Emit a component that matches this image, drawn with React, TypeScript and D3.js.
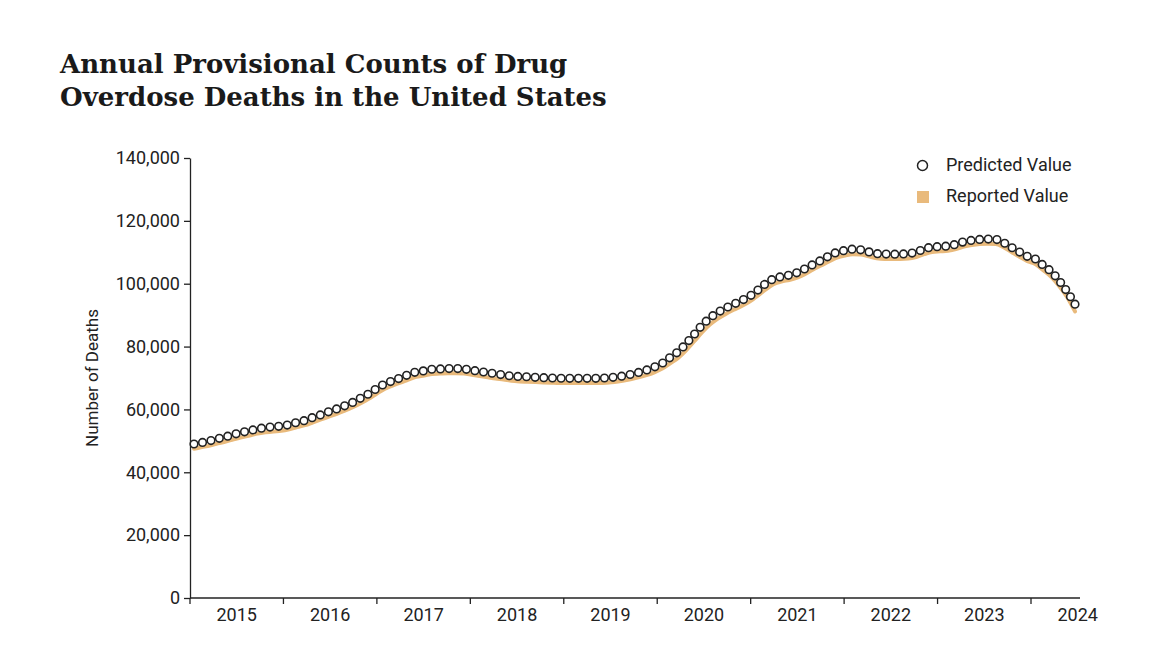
import React, { useEffect, useRef } from 'react';
import * as d3 from 'd3';

// Monthly predicted provisional counts (12-month ending), Jan 2015 – Apr 2024
const predicted2015 = [49000, 49480, 50000, 50680, 51330, 52030, 52650, 53230, 53800, 54230, 54470, 54710];
const predicted2016 = [55180, 55910, 56530, 57490, 58340, 59290, 60190, 61180, 62260, 63600, 64960, 66620];
const predicted2017 = [68100, 69080, 70040, 71070, 71940, 72310, 72790, 72890, 72980, 73000, 72860, 72480];
const predicted2018 = [72080, 71710, 71340, 70960, 70640, 70480, 70380, 70200, 70110, 70020, 69930, 69900];
const predicted2019 = [69900, 69900, 69900, 69930, 70050, 70260, 70640, 71150, 71780, 72510, 73490, 74690];
const predicted2020 = [76580, 78380, 80950, 83790, 86760, 89130, 90870, 92260, 93460, 94670, 96010, 97870];
const predicted2021 = [99990, 101550, 102280, 102740, 103530, 104790, 106160, 107440, 108810, 110020, 110590, 111000];
const predicted2022 = [110790, 110160, 109600, 109430, 109400, 109460, 109560, 110090, 111050, 111680, 111830, 112010];
const predicted2023 = [112570, 113350, 113820, 114100, 114200, 114110, 113080, 111560, 110110, 108700, 107870, 105860];
const predicted2024 = [103860, 100990, 97500, 93500];

// Monthly reported provisional counts
const reported2015 = [47500, 48000, 48500, 49200, 49800, 50500, 51100, 51700, 52300, 52700, 53000, 53200];
const reported2016 = [53700, 54400, 55000, 55900, 56800, 57700, 58600, 59600, 60700, 62000, 63400, 65000];
const reported2017 = [66500, 67600, 68500, 69500, 70400, 70800, 71300, 71400, 71500, 71500, 71400, 71000];
const reported2018 = [70600, 70200, 69800, 69500, 69100, 68900, 68800, 68700, 68600, 68500, 68400, 68400];
const reported2019 = [68400, 68400, 68400, 68400, 68500, 68700, 69100, 69600, 70200, 70900, 71800, 73000];
const reported2020 = [74700, 76400, 78800, 81600, 84500, 87000, 88900, 90400, 91700, 92900, 94300, 96100];
const reported2021 = [98100, 99800, 100700, 101200, 101900, 103100, 104500, 105800, 107100, 108300, 109000, 109400];
const reported2022 = [109300, 108700, 108100, 107900, 107900, 107900, 108000, 108500, 109400, 110100, 110300, 110500];
const reported2023 = [111000, 111800, 112300, 112600, 112700, 112600, 111600, 110100, 108600, 107200, 106300, 104300];
const reported2024 = [102200, 99300, 95800, 91200];

const predictedValues = [
  ...predicted2015, ...predicted2016, ...predicted2017, ...predicted2018, ...predicted2019,
  ...predicted2020, ...predicted2021, ...predicted2022, ...predicted2023, ...predicted2024,
];
const reportedValues = [
  ...reported2015, ...reported2016, ...reported2017, ...reported2018, ...reported2019,
  ...reported2020, ...reported2021, ...reported2022, ...reported2023, ...reported2024,
];

const yTicks = [0, 20000, 40000, 60000, 80000, 100000, 120000, 140000];
const yearTicks = [2015, 2016, 2017, 2018, 2019, 2020, 2021, 2022, 2023, 2024];
const titleLines = ['Annual Provisional Counts of Drug', 'Overdose Deaths in the United States'];
const yAxisTitle = 'Number of Deaths';
const legendLabels = ['Predicted Value', 'Reported Value'];

const W = 1161;
const H = 653;
const TAN = '#E9BA7C';
const INK = '#222222';
const SANS = 'Roboto, "Open Sans", sans-serif';

export default function App() {
  const ref = useRef<SVGSVGElement>(null);

  useEffect(() => {
    const svg = d3.select(ref.current);
    svg.selectAll('*').remove();

    const y = d3.scaleLinear().domain([0, 140000]).range([598, 158]);
    const n = predictedValues.length;
    const x = d3.scaleLinear().domain([0, n - 1]).range([194, 1075]);
    const yearX = d3.scaleLinear().domain([2015, 2024]).range([190, 1031]);

    svg.append('rect').attr('width', W).attr('height', H).attr('fill', '#fff');

    // Title
    const title = svg.append('text')
      .attr('x', 60)
      .attr('font-family', '"DejaVu Serif", serif')
      .attr('font-weight', 700)
      .attr('font-size', 26)
      .attr('fill', '#1a1a1a');
    titleLines.forEach((t, i) => {
      title.append('tspan').attr('x', 60).attr('y', 73 + i * 33).text(t);
    });

    // Y axis
    const yAxis = d3.axisLeft(y)
      .tickValues(yTicks)
      .tickSize(6)
      .tickSizeOuter(0)
      .tickPadding(4)
      .tickFormat((d) => d3.format(',')(d as number));
    const gy = svg.append('g').attr('transform', 'translate(190,0)').call(yAxis);
    gy.select('.domain').attr('stroke', INK).attr('stroke-width', 1.3);
    gy.selectAll('.tick line').attr('stroke', INK).attr('stroke-width', 1.3);
    gy.selectAll('.tick text')
      .attr('font-family', SANS)
      .attr('font-size', 18)
      .attr('fill', INK);

    // X axis
    const gx = svg.append('g');
    gx.append('line')
      .attr('x1', 190).attr('x2', 1080)
      .attr('y1', y(0)).attr('y2', y(0))
      .attr('stroke', INK).attr('stroke-width', 1.3);
    gx.selectAll('line.tk')
      .data(yearTicks)
      .join('line')
      .attr('class', 'tk')
      .attr('x1', (d) => yearX(d)).attr('x2', (d) => yearX(d))
      .attr('y1', y(0)).attr('y2', y(0) + 6)
      .attr('stroke', INK).attr('stroke-width', 1.3);
    gx.selectAll('text')
      .data(yearTicks)
      .join('text')
      .attr('x', (d) => yearX(d + 0.5))
      .attr('y', 621)
      .attr('text-anchor', 'middle')
      .attr('font-family', SANS)
      .attr('font-size', 18)
      .attr('fill', INK)
      .text((d) => String(d));

    // Y axis title
    svg.append('text')
      .attr('transform', `translate(98,${(158 + 598) / 2}) rotate(-90)`)
      .attr('text-anchor', 'middle')
      .attr('font-family', SANS)
      .attr('font-size', 17)
      .attr('fill', INK)
      .text(yAxisTitle);

    // Reported band
    const line = d3.line<number>()
      .x((_, i) => x(i))
      .y((d) => y(d))
      .curve(d3.curveMonotoneX);
    svg.append('path')
      .attr('d', line(reportedValues) || '')
      .attr('fill', 'none')
      .attr('stroke', TAN)
      .attr('stroke-width', 4)
      .attr('stroke-linecap', 'round')
      .attr('stroke-linejoin', 'round');

    // Predicted: circles spaced evenly along the curve (one per month)
    const guide = svg.append('path')
      .attr('d', line(predictedValues) || '')
      .attr('fill', 'none')
      .attr('stroke', 'none');
    const node = guide.node() as SVGPathElement;
    const total = node.getTotalLength();
    const pts = predictedValues.map((_, i) => node.getPointAtLength((total * i) / (n - 1)));
    svg.append('g')
      .selectAll('circle')
      .data(pts)
      .join('circle')
      .attr('cx', (p) => p.x)
      .attr('cy', (p) => p.y)
      .attr('r', 3.8)
      .attr('fill', '#fff')
      .attr('stroke', INK)
      .attr('stroke-width', 1.6);

    // Legend
    const lg = svg.append('g');
    lg.append('circle')
      .attr('cx', 922.5).attr('cy', 165.5).attr('r', 5)
      .attr('fill', '#fff').attr('stroke', INK).attr('stroke-width', 1.5);
    lg.append('rect')
      .attr('x', 917).attr('y', 191).attr('width', 12).attr('height', 12)
      .attr('fill', TAN);
    legendLabels.forEach((t, i) => {
      lg.append('text')
        .attr('x', 946)
        .attr('y', 171 + i * 31)
        .attr('font-family', SANS)
        .attr('font-size', 18)
        .attr('fill', INK)
        .text(t);
    });
  }, []);

  return (
    <svg
      ref={ref}
      width={W}
      height={H}
      style={{ position: 'absolute', left: 0, top: 0, display: 'block' }}
    />
  );
}
